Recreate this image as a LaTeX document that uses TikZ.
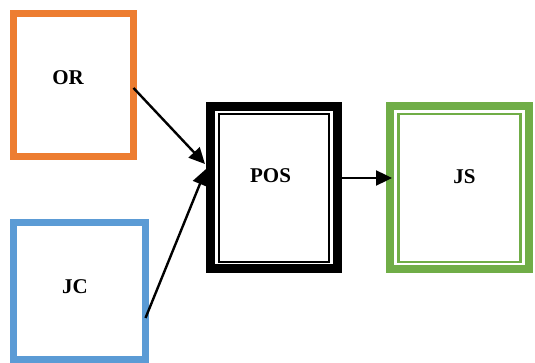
\documentclass[tikz,border=0pt]{standalone}
\usepackage{fontspec}
\setmainfont{Liberation Serif}
\usetikzlibrary{arrows.meta,calc}
\definecolor{orOrange}{HTML}{ED7D31}
\definecolor{jcBlue}{HTML}{5B9BD5}
\definecolor{jsGreen}{HTML}{70AD47}
\begin{document}
\begin{tikzpicture}[x=1pt,y=-1pt,
  box/.style={draw, rectangle, outer sep=0pt, inner sep=0pt, fill=white},
  lbl/.style={inner sep=0pt, font=\fontsize{21}{24}\selectfont\bfseries},
  conn/.style={line width=2.4pt, -{Triangle[length=16pt,width=15pt]}}]
\useasboundingbox (0,0) rectangle (535,363);
% boxes
\node[box, line width=7pt, draw=orOrange, minimum width=120pt, minimum height=143pt] (OR) at (73.5,85) {};
\node[box, line width=7pt, draw=jcBlue, minimum width=132pt, minimum height=137pt] (JC) at (79.5,291) {};
\node[box, line width=9pt, draw=black, minimum width=127pt, minimum height=162pt] (POS) at (274,187.5) {};
\node[box, line width=8pt, draw=jsGreen, minimum width=139pt, minimum height=163pt] (JS) at (459.5,187.5) {};
% inner lines
\draw[line width=2pt] ($(POS.north west)+(8.5,8)$) rectangle ($(POS.south east)+(-8.5,-6)$);
\draw[line width=2.2pt, draw=jsGreen] ($(JS.north west)+(8.5,8)$) rectangle ($(JS.south east)+(-8.5,-7)$);
% labels
\node[lbl] (ORl) at (68,78) {OR};
\node[lbl] (JCl) at (75,286.5) {JC};
\node[lbl] (POSl) at (270.5,176) {POS};
\node[lbl] (JSl) at (464.5,176.5) {JS};
% connectors
\draw[conn] ($(OR.east)+(0,3)$) -- ($(POS.west)+(-5.5,-23.5)$);
\draw[conn] ($(JC.east)+(0,27)$) -- ($(POS.west)+(-4.5,-18.5)$);
\draw[conn] ($(POS.east)+(4.5,-9.5)$) -- ($(JS.west)+(2,-9.5)$);
\end{tikzpicture}
\end{document}
